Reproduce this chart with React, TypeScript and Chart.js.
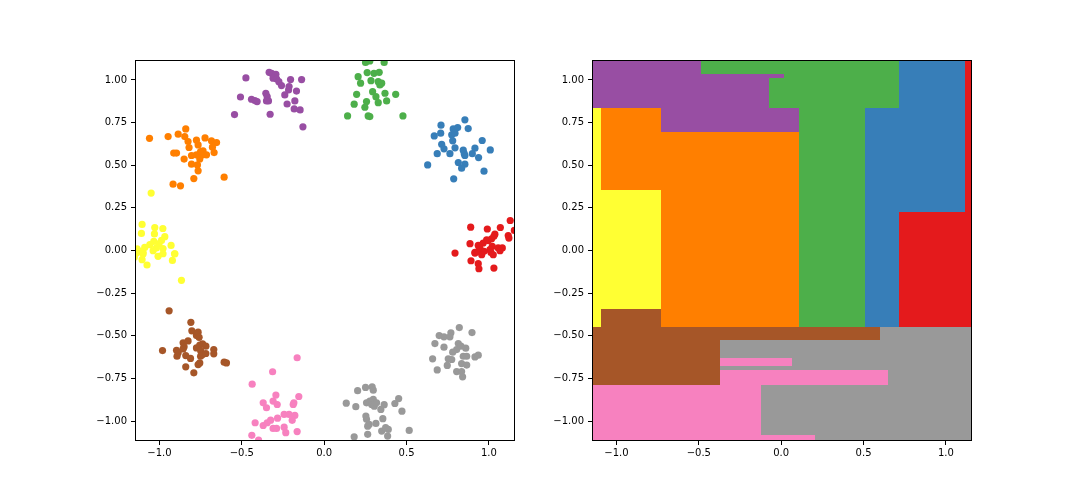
import React, { useEffect, useRef } from "react";
import { Chart, registerables } from "chart.js";

Chart.register(...registerables);

const SET1 = ["#e41a1c", "#377eb8", "#4daf4a", "#984ea3", "#ff7f00", "#ffff33", "#a65628", "#f781bf", "#999999"];
const clusterColorIndex = [0, 1, 2, 3, 4, 5, 6, 7, 8, 8];

const X_MIN = -1.148;
const X_MAX = 1.158;
const Y_MIN = -1.117;
const Y_MAX = 1.117;
const xTicks = [-1.0, -0.5, 0.0, 0.5, 1.0];
const yTicks = [-1.0, -0.75, -0.5, -0.25, 0.0, 0.25, 0.5, 0.75, 1.0];

// class 0 (red)
const cluster0 = [
  [1.129, 0.176], [1.154, 0.118], [0.889, 0.137], [0.99, 0.126], [1.069, 0.135], [1.036, 0.096],
  [1.117, 0.088], [1.121, 0.073], [0.885, 0.04], [0.935, 0.03], [0.965, 0.044], [0.986, 0.063],
  [0.996, 0.058], [1.016, 0.069], [1.03, 0.083], [0.945, 0.015], [0.915, -0.011], [1.02, 0.024],
  [1.056, 0.015], [1.081, 0.015], [0.97, -0.005], [1.006, 0.005], [0.794, -0.015], [0.915, -0.015],
  [0.935, -0.005], [0.956, -0.025], [1.012, -0.011], [1.026, -0.025], [1.067, -0.001], [0.891, -0.06],
  [0.935, -0.077], [0.939, -0.107], [1.03, -0.103],
];
// class 1 (blue)
const cluster1 = [
  [0.854, 0.766], [0.709, 0.735], [0.783, 0.713], [0.81, 0.721], [0.874, 0.715], [0.668, 0.672],
  [0.707, 0.688], [0.774, 0.678], [0.794, 0.688], [0.78, 0.643], [0.959, 0.645], [0.713, 0.623],
  [0.727, 0.596], [0.763, 0.568], [0.794, 0.602], [0.844, 0.588], [0.915, 0.6], [0.899, 0.568],
  [0.854, 0.557], [0.85, 0.568], [0.686, 0.568], [1.008, 0.59], [0.937, 0.545], [0.814, 0.516],
  [0.854, 0.506], [0.834, 0.483], [0.628, 0.502], [0.97, 0.465], [0.786, 0.42],
];
// class 2 (green)
const cluster2 = [
  [0.251, 1.103], [0.277, 1.111], [0.364, 1.103], [0.261, 1.043], [0.302, 1.039], [0.334, 1.045],
  [0.206, 1.019], [0.284, 0.996], [0.221, 0.981], [0.328, 0.99], [0.338, 0.971], [0.349, 0.981],
  [0.294, 0.931], [0.314, 0.902], [0.369, 0.922], [0.434, 0.916], [0.197, 0.916], [0.257, 0.873],
  [0.328, 0.867], [0.379, 0.877], [0.182, 0.858], [0.247, 0.84], [0.267, 0.789], [0.277, 0.785],
  [0.142, 0.789], [0.478, 0.789], [0.3, 1.14], [0.35, 1.135],
];
// class 3 (purple)
const cluster3 = [
  [-0.334, 1.045], [-0.319, 1.039], [-0.293, 1.033], [-0.31, 1.01], [-0.289, 1.006], [-0.275, 0.99],
  [-0.259, 0.967], [-0.204, 1.002], [-0.137, 1.002], [-0.475, 1.012], [-0.354, 0.922], [-0.346, 0.902],
  [-0.338, 0.877], [-0.35, 0.877], [-0.213, 0.961], [-0.216, 0.941], [-0.239, 0.912], [-0.168, 0.935],
  [-0.178, 0.877], [-0.225, 0.859], [-0.508, 0.9], [-0.441, 0.887], [-0.421, 0.879], [-0.407, 0.873],
  [-0.328, 0.799], [-0.544, 0.797], [-0.182, 0.83], [-0.146, 0.824], [-0.129, 0.725],
];
// class 4 (orange)
const cluster4 = [
  [-1.06, 0.658], [-0.947, 0.668], [-0.886, 0.682], [-0.84, 0.713], [-0.846, 0.668], [-0.826, 0.639],
  [-0.82, 0.604], [-0.775, 0.647], [-0.765, 0.619], [-0.723, 0.66], [-0.684, 0.643], [-0.653, 0.633],
  [-0.678, 0.606], [-0.668, 0.574], [-0.913, 0.571], [-0.896, 0.571], [-0.85, 0.536], [-0.805, 0.557],
  [-0.775, 0.561], [-0.75, 0.58], [-0.735, 0.584], [-0.738, 0.561], [-0.714, 0.561], [-0.755, 0.537],
  [-0.805, 0.506], [-0.769, 0.502], [-0.765, 0.467], [-0.791, 0.422], [-0.917, 0.389], [-0.872, 0.379],
  [-0.607, 0.43],
];
// class 5 (yellow)
const cluster5 = [
  [-1.05, 0.337], [-1.105, 0.153], [-1.109, 0.1], [-1.028, 0.135], [-0.979, 0.129], [-1.03, 0.097],
  [-0.967, 0.081], [-1.034, 0.053], [-0.987, 0.059], [-1.002, 0.04], [-1.058, 0.034], [-1.089, 0.018],
  [-1.135, 0.009], [-0.929, 0.03], [-1.018, 0.015], [-0.978, 0.011], [-1.119, -0.005], [-0.908, -0.019],
  [-1.099, -0.021], [-1.139, -0.015], [-1.099, -0.011], [-1.038, -0.001], [-1.008, -0.034], [-0.978, -0.019],
  [-0.906, -0.019], [-1.105, -0.054], [-0.921, -0.058], [-1.075, -0.085], [-0.866, -0.175], [-1.16, 0.01],
  [-1.152, -0.04],
];
// class 6 (brown)
const cluster6 = [
  [-0.941, -0.354], [-0.809, -0.421], [-0.803, -0.471], [-0.775, -0.499], [-0.765, -0.479], [-0.759, -0.509],
  [-0.981, -0.587], [-0.896, -0.585], [-0.886, -0.6], [-0.893, -0.62], [-0.856, -0.541], [-0.85, -0.565],
  [-0.826, -0.53], [-0.84, -0.616], [-0.811, -0.633], [-0.84, -0.682], [-0.791, -0.717], [-0.765, -0.669],
  [-0.755, -0.659], [-0.775, -0.571], [-0.755, -0.555], [-0.738, -0.548], [-0.718, -0.561], [-0.749, -0.59],
  [-0.738, -0.61], [-0.75, -0.62], [-0.718, -0.604], [-0.67, -0.581], [-0.67, -0.606], [-0.607, -0.655],
  [-0.593, -0.659], [-0.856, -0.577],
];
// class 7 (pink)
const cluster7 = [
  [-0.164, -0.629], [-0.313, -0.711], [-0.437, -0.784], [-0.293, -0.848], [-0.37, -0.893], [-0.31, -0.883],
  [-0.285, -0.903], [-0.35, -0.922], [-0.184, -0.893], [-0.188, -0.903], [-0.154, -0.856], [-0.419, -1.01],
  [-0.37, -1.026], [-0.346, -1.01], [-0.325, -0.995], [-0.283, -0.983], [-0.243, -0.961], [-0.213, -0.961],
  [-0.178, -0.967], [-0.194, -0.996], [-0.31, -1.043], [-0.289, -1.043], [-0.243, -1.036], [-0.233, -1.068],
  [-0.164, -1.062], [-0.439, -1.084], [-0.398, -1.112],
];
// class 8 (grey, bottom)
const cluster8 = [
  [0.251, -0.803], [0.291, -0.799], [0.298, -0.819], [0.203, -0.822], [0.134, -0.895], [0.192, -0.916],
  [0.257, -0.893], [0.277, -0.883], [0.298, -0.873], [0.288, -0.903], [0.304, -0.913], [0.318, -0.893],
  [0.344, -0.932], [0.364, -0.904], [0.429, -0.897], [0.452, -0.868], [0.472, -0.942], [0.257, -0.99],
  [0.273, -1.02], [0.314, -1.014], [0.356, -0.986], [0.264, -1.03], [0.349, -1.059], [0.373, -1.039],
  [0.389, -1.049], [0.385, -1.088], [0.264, -1.078], [0.182, -1.092], [0.516, -1.055], [0.253, -0.971],
];
// class 9 (grey, right)
const cluster9 = [
  [0.82, -0.452], [0.897, -0.481], [0.769, -0.483], [0.698, -0.499], [0.727, -0.506], [0.763, -0.506],
  [0.672, -0.546], [0.727, -0.567], [0.814, -0.546], [0.83, -0.561], [0.804, -0.581], [0.859, -0.573],
  [0.78, -0.596], [0.844, -0.62], [0.865, -0.62], [0.915, -0.624], [0.935, -0.614], [0.658, -0.635],
  [0.753, -0.635], [0.774, -0.639], [0.834, -0.663], [0.865, -0.672], [0.747, -0.674], [0.686, -0.7],
  [0.804, -0.71], [0.834, -0.71], [0.84, -0.741],
];
const clusters = [cluster0, cluster1, cluster2, cluster3, cluster4, cluster5, cluster6, cluster7, cluster8, cluster9];

// decision regions, painted in order (later ones on top)
const regionX0 = [-1.3, -1.3, -1.3, -0.374, -0.374, -1.3, -0.121, -1.3, 0.717, 1.117, 0.717, 0.511, 0.111, -0.489, -1.3, -0.489, -0.489, -0.727, -1.3, -1.095, -1.095];
const regionX1 = [1.3, 0.602, -0.374, 0.068, 0.65, -0.121, 0.206, 1.3, 1.3, 1.3, 1.117, 0.717, 0.511, 0.717, -0.489, 0.02, -0.071, 0.111, -1.095, -0.727, -0.727];
const regionY0 = [-1.3, -0.522, -0.79, -0.68, -0.79, -1.3, -1.3, -0.45, -0.45, 0.223, 0.223, -0.45, -0.45, 0.834, 0.834, 1.013, 0.834, 0.697, -0.45, -0.341, -0.45];
const regionY1 = [-0.45, -0.45, -0.522, -0.633, -0.698, -0.79, -1.082, 1.3, 0.223, 1.3, 1.3, 0.834, 0.834, 1.3, 1.3, 1.034, 1.013, 0.834, 0.834, 0.356, -0.341];
const regionClass = [8, 6, 6, 7, 7, 7, 7, 4, 0, 0, 1, 1, 2, 2, 3, 3, 3, 3, 5, 5, 6];

const fmt = (v: number, d: number) => {
  const s = Math.abs(v).toFixed(d);
  return v < 0 ? "\u2212" + s : s;
};

const framePlugin = {
  id: "frame",
  afterDraw(chart: any) {
    const { ctx, chartArea } = chart;
    ctx.save();
    ctx.strokeStyle = "#000";
    ctx.lineWidth = 1;
    ctx.strokeRect(chartArea.left + 0.5, chartArea.top + 0.5, chartArea.right - chartArea.left - 1, chartArea.bottom - chartArea.top - 1);
    ctx.restore();
  },
};

const regionPlugin = {
  id: "regions",
  beforeDatasetsDraw(chart: any) {
    const opts = chart.options.plugins.regions;
    if (!opts || !opts.enabled) return;
    const { ctx, chartArea } = chart;
    const xs = chart.scales.x;
    const ys = chart.scales.y;
    ctx.save();
    ctx.beginPath();
    ctx.rect(chartArea.left, chartArea.top, chartArea.right - chartArea.left, chartArea.bottom - chartArea.top);
    ctx.clip();
    for (let i = 0; i < regionClass.length; i++) {
      const x0 = Math.round(xs.getPixelForValue(regionX0[i]));
      const x1 = Math.round(xs.getPixelForValue(regionX1[i]));
      const y0 = Math.round(ys.getPixelForValue(regionY1[i]));
      const y1 = Math.round(ys.getPixelForValue(regionY0[i]));
      ctx.fillStyle = SET1[regionClass[i]];
      ctx.fillRect(x0, y0, x1 - x0, y1 - y0);
    }
    ctx.restore();
  },
};

function makeOptions(regions: boolean): any {
  return {
    responsive: false,
    animation: false,
    events: [],
    layout: { padding: { left: 0, right: 25, top: 60, bottom: 0 } },
    plugins: {
      legend: { display: false },
      tooltip: { enabled: false },
      regions: { enabled: regions },
    },
    scales: {
      x: {
        type: "linear",
        min: X_MIN,
        max: X_MAX,
        afterBuildTicks: (s: any) => {
          s.ticks = xTicks.map((v) => ({ value: v }));
        },
        afterFit: (s: any) => {
          s.height = 63;
        },
        ticks: {
          callback: (v: any) => fmt(Number(v), 1),
          color: "#000",
          font: { family: "DejaVu Sans", size: 10 },
          padding: 2,
          maxRotation: 0,
          autoSkip: false,
        },
        grid: { drawOnChartArea: false, drawTicks: true, tickLength: 4, color: "#000", lineWidth: 1 },
        border: { display: false },
      },
      y: {
        type: "linear",
        min: Y_MIN,
        max: Y_MAX,
        afterBuildTicks: (s: any) => {
          s.ticks = yTicks.map((v) => ({ value: v }));
        },
        afterFit: (s: any) => {
          s.width = 135;
        },
        ticks: {
          callback: (v: any) => fmt(Number(v), 2),
          color: "#000",
          font: { family: "DejaVu Sans", size: 10 },
          padding: 4,
          autoSkip: false,
        },
        grid: { drawOnChartArea: false, drawTicks: true, tickLength: 4, color: "#000", lineWidth: 1 },
        border: { display: false },
      },
    },
  };
}

function ChartCanvas({ regions, left }: { regions: boolean; left: number }) {
  const ref = useRef<HTMLCanvasElement | null>(null);
  useEffect(() => {
    if (!ref.current) return;
    const datasets = regions
      ? []
      : clusters.map((c, i) => ({
          label: "class " + i,
          data: c.map(([x, y]) => ({ x, y })),
          backgroundColor: SET1[clusterColorIndex[i]],
          borderColor: SET1[clusterColorIndex[i]],
          pointRadius: 3.6,
          pointBorderWidth: 0,
          showLine: false,
          clip: 0,
        }));
    const chart = new Chart(ref.current, {
      type: "scatter",
      data: { datasets },
      options: makeOptions(regions),
      plugins: [regionPlugin, framePlugin],
    } as any);
    return () => chart.destroy();
  }, [regions]);
  return (
    <canvas
      ref={ref}
      width={540}
      height={504}
      style={{ position: "absolute", left, top: 0, width: 540, height: 504 }}
    />
  );
}

export default function App() {
  return (
    <div style={{ position: "fixed", left: 0, top: 0, width: 1080, height: 504, background: "#fff", overflow: "hidden" }}>
      <ChartCanvas regions={false} left={0} />
      <ChartCanvas regions={true} left={457} />
    </div>
  );
}
